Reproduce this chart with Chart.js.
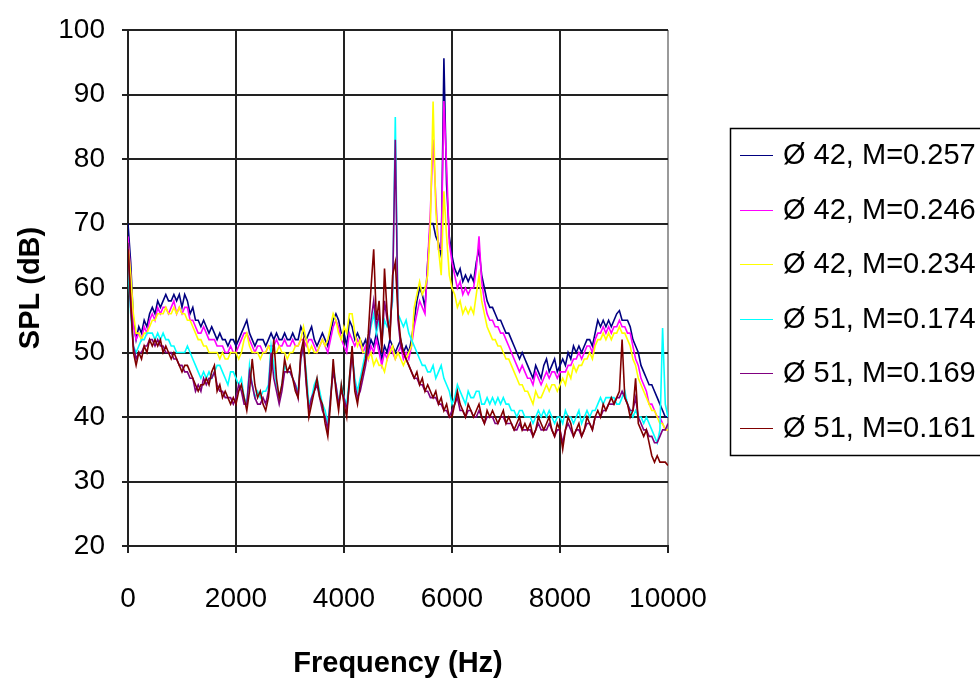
<!DOCTYPE html>
<html><head><meta charset="utf-8">
<script src="https://cdn.jsdelivr.net/npm/chart.js@4.4.1/dist/chart.umd.min.js"></script>
<style>html,body{margin:0;padding:0;background:#fff;}#wrap{width:980px;height:679px;}</style>
</head><body><div id="wrap"><canvas id="c" width="980" height="679"></canvas></div>
<script>
const freqHz = [
0,50,100,150,200,250,300,350,400,450,500,550,600,650,700,750,800,850,900,950,
1000,1050,1100,1150,1200,1250,1300,1350,1400,1450,1500,1550,1600,1650,1700,1750,1800,1850,1900,1950,
2000,2050,2100,2150,2200,2250,2300,2350,2400,2450,2500,2550,2600,2650,2700,2750,2800,2850,2900,2950,
3000,3050,3100,3150,3200,3250,3300,3350,3400,3450,3500,3550,3600,3650,3700,3750,3800,3850,3900,3950,
4000,4050,4100,4150,4200,4250,4300,4350,4400,4450,4500,4550,4600,4650,4700,4750,4800,4850,4900,4950,
5000,5050,5100,5150,5200,5250,5300,5350,5400,5450,5500,5550,5600,5650,5700,5750,5800,5850,5900,5950,
6000,6050,6100,6150,6200,6250,6300,6350,6400,6450,6500,6550,6600,6650,6700,6750,6800,6850,6900,6950,
7000,7050,7100,7150,7200,7250,7300,7350,7400,7450,7500,7550,7600,7650,7700,7750,7800,7850,7900,7950,
8000,8050,8100,8150,8200,8250,8300,8350,8400,8450,8500,8550,8600,8650,8700,8750,8800,8850,8900,8950,
9000,9050,9100,9150,9200,9250,9300,9350,9400,9450,9500,9550,9600,9650,9700,9750,9800,9850,9900,9950,
10000];

const seriesLabels = ['\u00D8 42, M=0.257','\u00D8 42, M=0.246','\u00D8 42, M=0.234','\u00D8 51, M=0.174','\u00D8 51, M=0.169','\u00D8 51, M=0.161'];
const seriesColors = ['#000080','#FF00FF','#FFFF00','#00FFFF','#800080','#800000'];

const splD42M257 = [
70,64,55,52,54,53,55,54,56,57,56,58,57,58,59,58,58,59,58,59,
57,59,58,56,57,55,55,54,55,54,53,54,53,52,53,52,52,51,52,52,
51,52,53,54,55,53,52,51,52,52,52,51,52,53,52,53,52,52,53,52,
52,53,52,52,54,53,52,53,54,52,51,52,53,52,51,53,55,56,55,53,
53,51,55,54,52,53,52,51,52,50,52,51,53,51,49,51,50,52,51,50,
51,52,50,51,50,52,55,58,60,59,57,64,70,70,68,67,65,95.6,76,68,
65,63,62,63,61,62,61,62,61,64,66,62,60,58,57,57,56,55,55,54,
53,53,52,51,50,49,50,49,48,47,46,48,47,46,48,49,47,48,49,47,
48,49,48,50,49,51,50,51,50,51,52,52,51,53,55,54,55,54,55,54,
55,56,56.5,55,55,55,54,52,51,50,48,47,46,45,45,44,43,42,41,40,
40];

const splD42M246 = [
68,62,54,52,53,52,54,53,55,56,55,57,56,57,57,56,57,58,56,57,
56,57,57,55,55,54,53,53,54,53,52,52,52,51,51,51,50,50,51,50,
50,51,52,53,53,52,51,50,51,51,50,50,51,51,51,52,51,51,52,51,
51,52,51,51,52,52,51,52,52,51,50,51,52,51,50,52,54,55,54,52,
51,50,53,52,51,52,51,50,51,49,51,50,52,50,48,50,49,51,50,49,
50,51,49,50,49,51,54,56,58,57,56,64,72,83,74,66,66,89,79,67,
64,62,60,61,59,60,59,60,60,63,68,61,58,56,55,55,54,54,53,53,
52,51,50,49,48,47,48,47,46,46,45,47,46,45,46,47,46,47,47,46,
47,47,47,48,48,49,49,50,49,50,51,51,50,52,53,53,54,53,54,53,
54,54,55,54,54,53,53,51,49,48,46,45,44,42,42,41,40,40,39,38,
38];

const splD42M234 = [
67,62,56,53,53,52,53,53,54,55,55,56,56,56,57,56,56,57,56,57,
56,56,55,55,54,53,52,52,51,51,50,50,50,50,49,50,49,49,50,50,
50,49,50,52,53,51,50,50,50,49,50,50,51,50,50,50,51,50,50,49,
50,50,51,51,52,54,52,50,51,50,50,51,52,51,52,54,56,55,53,52,
54,53,56,56,53,51,52,50,50,49,50,48,49,48,48,47,49,50,51,49,
50,49,48,49,50,51,57,59,61,59,60,62,70,88.9,72,66,62,75,68,62,
60,59,57,58,56,57,56,57,56,59,62,58,56,54,53,52,52,51,51,50,
49,49,48,47,46,45,45,44,44,43,42,44,43,43,44,45,44,45,45,44,
45,46,45,47,46,48,47,48,48,49,49,50,49,51,52,52,53,52,53,52,
53,53,54,53,53,52,51,49,48,46,45,44,43,42,41,41,40,39,39,38,
38];

const splD51M174 = [
64,56,51,50,51,52,52,53,53,53,52,53,52,53,52,52,51,51,50,50,
50,50,51,50,49,48,47,46,47,46,47,46,47,48,48,47,46,45,47,47,
46,45,46,43,42,48,45,43,44,43,44,44,45,51,48,45,43,45,48,47,
47,46,45,44,49,51,47,42,43,45,46,44,42,41,39,43,48,45,42,45,
43,42,46,50,46,44,46,48,50,52,54,56,53,55,52,55,54,55,58,86.5,
56,55,54,55,53,52,51,50,49,48,48,47,47,48,46,47,48,46,45,44,
42,43,45,44,43,42,44,43,43,44,44,42,42,43,42,43,42,43,42,43,
42,42,41,41,40,41,41,40,40,40,39,40,41,40,41,40,41,40,39,40,
40,39,41,40,40,39,40,41,39,40,41,40,41,41,42,43,42,43,43,43,
43,42,42,43,44,42,41,40,41,40,40,39,40,39,38,37,36,38,53.8,42,
40];

const splD51M169 = [
67,57,51,49,50,50,51,51,52,52,51,52,51,51,50,50,50,49,49,48,
48,47,47,46,46,44,45,44,46,45,46,46,47,45,44,44,43,43,43,42,
43,45,44,42,42,47,45,43,42,42,43,42,44,50,46,44,42,44,47,47,
47,46,45,43,49,51,45,41,43,44,45,43,41,40,38,43,47,45,42,44,
43,41,45,50,45,43,44,46,48,51,55,58,54,56,51,58,55,53,60,83,
55,51,50,49,48,47,46,46,45,45,44,44,43,43,43,42,42,41,41,40,
41,42,43,41,41,40,41,41,40,40,41,40,39,40,40,40,39,39,40,40,
39,39,39,38,38,39,38,38,38,38,37,38,39,38,38,38,39,38,37,38,
38,36,38,39,38,37,38,38,37,38,39,39,38,40,40,40,41,41,42,42,
42,43,43,44,43,42,41,41,43,40,39,38,38,37,37,36,36,37,38,38,
39];

const splD51M161 = [
66,58,50,48,50,49,51,50,52,51,52,51,52,50,51,50,49,50,49,48,
47,48,48,47,46,45,44,45,45,46,45,47,48,44,45,43,44,43,42,43,
42,44,45,43,41,44,49,45,43,44,42,41,43,47,52,46,43,45,49,47,
48,46,44,43,50,52,46,40,42,44,46,43,42,39,37,42,49,44,41,45,
42,40,46,51,44,42,45,47,49,53,60,66,55,58,50,63,56,52,62,64,
56,52,50,49,48,47,46,47,45,46,44,45,44,43,44,42,43,41,42,40,
40,42,44,42,41,40,42,41,40,41,42,40,39,41,40,41,40,39,40,41,
39,40,39,38,39,40,38,39,38,39,37,38,40,39,38,39,40,38,37,39,
38,35,38,40,39,37,38,39,37,38,40,39,38,40,41,40,42,41,42,43,
42,43,44,52,43,42,40,41,46,39,38,37,38,36,34,33,34,33,33,33,
32.5];

const xTickValues = [0,2000,4000,6000,8000,10000];
const yTickValues = [20,30,40,50,60,70,80,90,100];
const xAxisTitle = 'Frequency (Hz)';
const yAxisTitle = 'SPL (dB)';

const seriesValues = [splD42M257, splD42M246, splD42M234, splD51M174, splD51M169, splD51M161];

const FONT = '"Liberation Sans", Arial, sans-serif';

const datasets = seriesValues.map((vals, i) => ({
  label: seriesLabels[i],
  data: freqHz.map((f, k) => ({x: f, y: vals[k]})),
  borderColor: seriesColors[i],
  backgroundColor: seriesColors[i],
  borderWidth: 1.6,
  pointRadius: 0,
  fill: false,
  tension: 0,
  order: seriesValues.length - i
}));

const boxLegend = {
  id: 'boxLegend',
  afterDraw(chart) {
    const ctx = chart.ctx;
    ctx.save();
    ctx.fillStyle = '#fff';
    ctx.fillRect(730, 128, 260, 327);
    ctx.strokeStyle = '#000';
    ctx.lineWidth = 1.5;
    ctx.strokeRect(730.5, 128.5, 270, 327);
    const rowH = 327 / 6;
    ctx.font = '29px ' + FONT;
    ctx.textBaseline = 'middle';
    ctx.textAlign = 'left';
    chart.data.datasets.forEach((ds, i) => {
      const y = Math.round(128 + rowH * (i + 0.5)) + 0.5;
      ctx.strokeStyle = ds.borderColor;
      ctx.lineWidth = 1;
      ctx.beginPath(); ctx.moveTo(740, y); ctx.lineTo(773, y); ctx.stroke();
      ctx.fillStyle = '#000';
      ctx.fillText(ds.label, 783, y);
    });
    ctx.restore();
  }
};

const gridColor = '#222';

new Chart(document.getElementById('c'), {
  type: 'line',
  data: { datasets },
  plugins: [boxLegend],
  options: {
    responsive: false,
    animation: false,
    devicePixelRatio: 1,
    layout: { padding: { left: 0, top: 30, right: 312, bottom: 0 } },
    plugins: { legend: { display: false }, tooltip: { enabled: false } },
    scales: {
      x: {
        type: 'linear', min: 0, max: 10000,
        afterBuildTicks: s => { s.ticks = xTickValues.map(v => ({ value: v })); },
        afterFit: s => { s.height = 133; },
        ticks: { callback: v => String(v), color: '#000', padding: 29, maxRotation: 0, autoSkip: false,
                 font: { family: FONT, size: 28 } },
        grid: { color: c => (c.tick && c.tick.value === 10000) ? '#9a9a9a' : gridColor, lineWidth: 2, tickLength: 7, tickColor: gridColor },
        border: { color: gridColor, width: 2 },
        title: { display: true, text: xAxisTitle, color: '#000', padding: { top: 0, bottom: 1 },
                 font: { family: FONT, size: 29, weight: 'bold', lineHeight: 1 } }
      },
      y: {
        type: 'linear', min: 20, max: 100,
        afterBuildTicks: s => { s.ticks = yTickValues.map(v => ({ value: v })); },
        afterFit: s => { s.width = 128; s.paddingTop = 0; s.paddingBottom = 0; },
        ticks: { callback: v => String(v), color: '#000', padding: 17, font: { family: FONT, size: 28 } },
        grid: { color: gridColor, lineWidth: 2, tickLength: 6, tickColor: gridColor },
        border: { color: gridColor, width: 2 },
        title: { display: true, text: yAxisTitle, color: '#000', padding: { top: 16, bottom: 0 },
                 font: { family: FONT, size: 29, weight: 'bold', lineHeight: 1 } }
      }
    }
  }
});
</script>
</body></html>
